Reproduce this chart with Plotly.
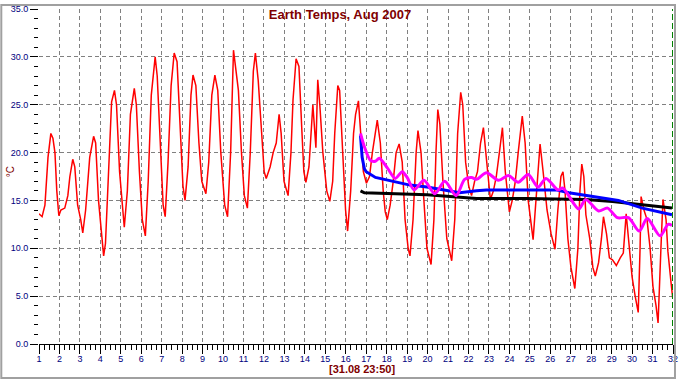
import plotly.graph_objects as go

# ---------------- data ----------------
air_day = [1.00, 1.15, 1.29, 1.44, 1.58, 1.68, 1.78, 1.87, 1.97, 2.07, 2.26, 2.41, 2.51, 2.65, 2.75, 2.89,
           3.04, 3.14, 3.28, 3.48, 3.67, 3.77, 3.91, 4.06, 4.16, 4.25, 4.35, 4.45, 4.55, 4.69, 4.79, 4.94,
           5.08, 5.17, 5.32, 5.47, 5.66, 5.76, 5.91, 6.05, 6.20, 6.34, 6.49, 6.68, 6.78, 6.93,
           7.07, 7.17, 7.31, 7.46, 7.61, 7.75, 7.90, 8.04, 8.14, 8.29, 8.43, 8.53, 8.67, 8.82, 8.96,
           9.16, 9.30, 9.45, 9.60, 9.74, 9.89, 10.08, 10.22, 10.37, 10.51, 10.61, 10.75, 10.90,
           11.04, 11.19, 11.33, 11.48, 11.58, 11.72, 11.87, 12.01, 12.11, 12.30, 12.45, 12.60, 12.74, 12.84, 12.98,
           13.18, 13.32, 13.42, 13.57, 13.71, 13.86, 13.95, 14.05, 14.20, 14.39, 14.54, 14.63, 14.73, 14.88,
           15.07, 15.22, 15.36, 15.46, 15.61, 15.70, 15.85, 15.99, 16.09, 16.24, 16.38, 16.48, 16.62, 16.72, 16.86,
           17.01, 17.16, 17.30, 17.45, 17.54, 17.69, 17.83, 17.93, 18.03, 18.17, 18.32, 18.46, 18.61, 18.76, 18.90,
           19.05, 19.14, 19.29, 19.44, 19.53, 19.68, 19.82, 19.97, 20.17, 20.31, 20.41, 20.50, 20.60, 20.75, 20.94,
           21.18, 21.33, 21.47, 21.62, 21.72, 21.86, 22.01, 22.15, 22.30, 22.44, 22.59, 22.73, 22.88,
           23.07, 23.22, 23.36, 23.51, 23.66, 23.80, 24.00, 24.14, 24.29, 24.43, 24.63, 24.77, 24.92,
           25.16, 25.31, 25.50, 25.65, 25.84, 26.04, 26.23, 26.37, 26.52, 26.62, 26.72, 26.86,
           27.01, 27.20, 27.35, 27.45, 27.54, 27.64, 27.74, 27.93, 28.08, 28.20, 28.36, 28.50, 28.60, 28.75, 28.89,
           29.04, 29.23, 29.42, 29.57, 29.71, 29.86, 30.00, 30.15, 30.30, 30.39, 30.44, 30.58, 30.73, 30.88,
           31.02, 31.17, 31.27, 31.41, 31.51, 31.66, 31.75, 31.90, 31.99]
air_temp = [13.6, 13.3, 14.5, 19.5, 22.0, 21.5, 20.0, 16.0, 13.4, 14.0, 14.2, 15.5, 17.5, 19.3, 18.5, 14.5,
            13.0, 11.6, 14.0, 19.5, 21.7, 21.0, 15.0, 11.0, 9.2, 10.5, 15.0, 20.0, 25.3, 26.5, 25.0, 18.0,
            14.0, 12.2, 16.0, 24.0, 26.7, 25.0, 18.0, 13.0, 11.3, 17.0, 26.0, 30.0, 28.0, 20.0,
            14.5, 13.3, 19.0, 27.0, 30.4, 29.5, 22.0, 16.5, 15.0, 18.5, 26.0, 28.1, 27.0, 21.0, 17.0,
            15.7, 19.0, 26.0, 28.1, 26.5, 20.0, 14.5, 13.3, 20.0, 30.7, 29.0, 26.5, 20.0,
            15.5, 14.2, 20.0, 28.5, 30.4, 27.5, 22.0, 18.0, 17.3, 18.5, 20.0, 21.0, 24.0, 22.0, 17.0,
            15.5, 20.0, 25.5, 29.8, 29.0, 22.0, 18.0, 16.9, 18.5, 25.0, 20.5, 27.6, 25.0, 20.0,
            16.0, 14.9, 17.0, 22.0, 27.0, 26.5, 20.0, 14.0, 11.8, 16.0, 22.0, 24.0, 25.4, 22.0, 18.0,
            16.8, 17.5, 20.0, 22.0, 23.4, 21.0, 16.0, 13.8, 13.0, 14.5, 17.0, 20.0, 20.9, 19.0, 13.0,
            10.0, 9.2, 13.0, 20.0, 22.3, 20.0, 15.0, 10.0, 8.3, 13.0, 20.0, 24.5, 23.0, 17.0, 11.0,
            8.7, 13.0, 22.0, 26.3, 25.0, 19.0, 16.5, 15.5, 17.0, 18.0, 21.0, 22.6, 19.0,
            15.1, 16.0, 17.5, 20.0, 22.6, 18.0, 13.8, 15.0, 17.0, 20.0, 23.8, 21.0, 15.0,
            10.9, 15.0, 20.9, 18.0, 14.0, 11.5, 9.9, 14.0, 17.5, 18.0, 16.0, 11.0,
            8.0, 5.8, 10.0, 16.0, 18.8, 17.5, 13.5, 11.0, 8.0, 7.1, 8.5, 11.0, 13.3, 11.5, 9.0,
            8.8, 8.2, 9.0, 9.5, 13.6, 10.0, 7.0, 5.0, 3.3, 10.0, 15.4, 14.0, 13.0, 10.0,
            6.0, 4.0, 2.2, 10.0, 15.1, 13.0, 9.7, 6.5, 4.7]

deep_day = [16.72, 16.91, 19.97, 22.39, 24.82, 27.73, 29.04, 30.30, 31.95]
deep_temp = [16.0, 15.8, 15.6, 15.2, 15.2, 15.1, 14.9, 14.6, 14.2]

mid_day = [16.72, 16.80, 16.91, 17.00, 17.45, 18.37, 19.14, 19.97, 20.79, 21.57, 22.39, 22.88,
           24.82, 26.28, 26.91, 28.07, 29.33, 30.50, 31.95]
mid_temp = [21.8, 19.5, 18.3, 18.0, 17.4, 17.0, 16.6, 16.4, 16.1, 15.8, 16.0, 16.1,
            16.1, 16.1, 15.8, 15.4, 15.0, 14.2, 13.5]

shallow_day = [16.72, 16.91, 17.20, 17.45, 17.64, 18.03, 18.42, 18.76, 19.00, 19.34, 19.82, 20.36,
               20.84, 21.40, 21.81, 22.15, 22.39, 22.88, 23.46, 23.95, 24.43, 24.92, 25.40, 25.79,
               26.37, 26.61, 27.39, 27.73, 28.36, 28.80, 29.28, 29.82, 30.35, 30.74, 31.37, 31.76, 31.95]
shallow_temp = [22.0, 20.6, 19.2, 19.1, 19.4, 18.4, 17.3, 18.0, 17.4, 16.1, 17.1, 15.7,
                17.0, 15.5, 17.2, 17.4, 17.2, 17.9, 17.1, 17.6, 16.9, 17.7, 16.4, 17.3,
                16.1, 16.3, 14.1, 15.1, 13.9, 14.2, 13.2, 13.2, 11.8, 13.1, 11.3, 12.5, 12.4]

now_marker = 32
x_ticks = list(range(1, 33))
y_ticks = [0, 5, 10, 15, 20, 25, 30, 35]
x_grid = list(range(2, 32))
y_grid = [5, 10, 15, 20, 25, 30]

title_text = "Earth Temps, Aug 2007"
stamp_text = "[31.08 23:50]"
unit_text = "°C"

# ---------------- figure ----------------
W, H = 682, 380
ML, MR, MT, MB = 39, 4, 5, 36
PW, PH = W - ML - MR, H - MT - MB

fig = go.Figure()
fig.add_trace(go.Scatter(x=air_day, y=air_temp, mode="lines",
                         line=dict(color="#ff0000", width=1.5), hoverinfo="skip"))
fig.add_trace(go.Scatter(x=deep_day, y=deep_temp, mode="lines",
                         line=dict(color="#000000", width=3), hoverinfo="skip"))
fig.add_trace(go.Scatter(x=mid_day, y=mid_temp, mode="lines",
                         line=dict(color="#0000ff", width=3), hoverinfo="skip"))
fig.add_trace(go.Scatter(x=shallow_day, y=shallow_temp, mode="lines",
                         line=dict(color="#ff00ff", width=3, shape="spline", smoothing=0.8),
                         xaxis="x2", yaxis="y2", hoverinfo="skip"))

navy = "#000080"
dark_red = "#800000"
tick_font = dict(family="Liberation Sans, Arial, sans-serif", size=9, color=navy)

fig.update_layout(
    width=W, height=H,
    margin=dict(l=ML, r=MR, t=MT, b=MB),
    paper_bgcolor="white", plot_bgcolor="white",
    showlegend=False,
    xaxis=dict(range=[1, 32], tickmode="array", tickvals=x_ticks, ticktext=[str(v) for v in x_ticks],
               ticks="outside", ticklen=9, tickwidth=1, tickcolor="black", ticklabelstandoff=-3,
               ticklabeloverflow="allow",
               minor=dict(dtick=0.25, tick0=1, ticks="outside", ticklen=5, tickcolor="black", tickwidth=1,
                          showgrid=False),
               showgrid=False, zeroline=False, showline=True, linecolor="black", linewidth=1,
               tickfont=tick_font, fixedrange=True),
    yaxis=dict(range=[0, 35], tickmode="array", tickvals=y_ticks, ticktext=[f"{v:.1f}" for v in y_ticks],
               ticks="outside", ticklen=8, tickwidth=1, tickcolor="black", ticklabeloverflow="allow",
               minor=dict(dtick=1, tick0=0, ticks="outside", ticklen=4, tickcolor="black", tickwidth=1,
                          showgrid=False),
               showgrid=False, zeroline=False, showline=False,
               tickfont=tick_font, fixedrange=True),
    xaxis2=dict(range=[1, 32], overlaying="x", anchor="y2", side="bottom",
                tickmode="array", tickvals=x_grid, showticklabels=False, ticks="",
                showgrid=True, gridcolor="#808080", gridwidth=1, griddash="4px,3px",
                zeroline=False, showline=False, fixedrange=True),
    yaxis2=dict(range=[0, 35], overlaying="y", anchor="x2", side="left",
                tickmode="array", tickvals=y_grid, showticklabels=False, ticks="",
                showgrid=True, gridcolor="#808080", gridwidth=1, griddash="4px,3px",
                zeroline=False, showline=False, fixedrange=True),
    title=dict(text=f"<b>{title_text}</b>", x=340 / W, y=1 - 14 / H, xref="container", yref="container",
               xanchor="center", yanchor="middle",
               font=dict(family="Liberation Sans, Arial, sans-serif", size=13, color=dark_red)),
)

fig.add_vline(x=now_marker, line=dict(color="#008000", width=2, dash="6px,3px"))

fig.add_annotation(text=f"<b>{stamp_text}</b>", xref="paper", yref="paper",
                   x=(365 - ML) / PW, y=(H - MB - 369.5) / PH, xanchor="center", yanchor="middle",
                   showarrow=False, font=dict(family="Liberation Sans, Arial, sans-serif", size=11, color=dark_red))
fig.add_annotation(text=unit_text, xref="paper", yref="paper", textangle=-90,
                   x=(10 - ML) / PW, y=(H - MB - 170) / PH, xanchor="center", yanchor="middle",
                   showarrow=False, font=dict(family="Liberation Sans, Arial, sans-serif", size=10, color=dark_red))

# outer frame of the chart window
fig.add_shape(type="rect", xref="paper", yref="paper",
              x0=(1 - ML) / PW, x1=(680 - ML) / PW,
              y0=(H - MB - 378.5) / PH, y1=1 + (MT - 1) / PH,
              line=dict(color="#a0a0a0", width=2), fillcolor="rgba(0,0,0,0)", layer="above")

fig.write_html("out.html", config={"displayModeBar": False},
               post_script="document.body.style.margin='0';document.body.style.overflow='hidden';")
